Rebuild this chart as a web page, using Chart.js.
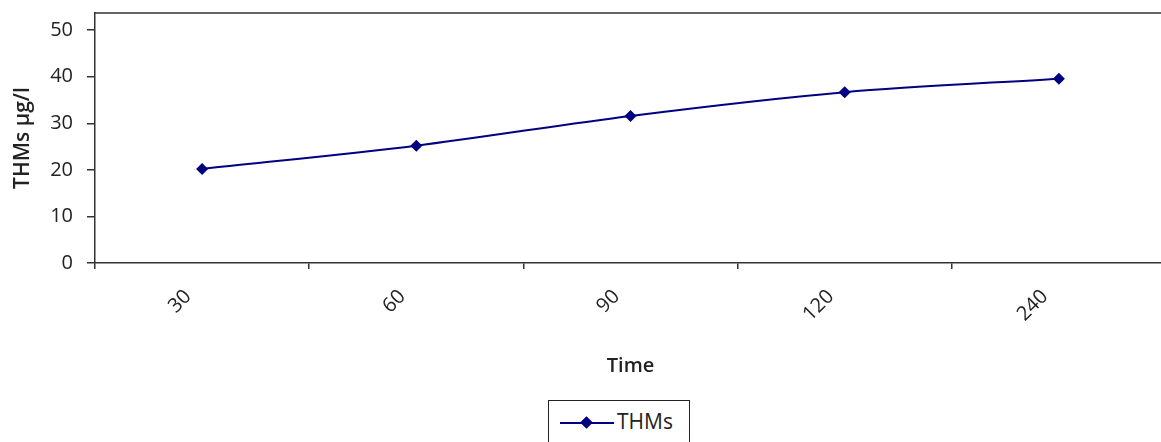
<!DOCTYPE html>
<html>
<head>
<meta charset="utf-8">
<script src="https://cdn.jsdelivr.net/npm/chart.js@4"></script>
<style>
  html, body { margin: 0; padding: 0; background: #fff; overflow: hidden; }
  #wrap { position: relative; width: 1161px; height: 442px; overflow: hidden; }
  #box { position: absolute; left: 0; top: 0; width: 1172px; height: 378px; }
  #legende {
    position: absolute; left: 548px; top: 400px; width: 142px; height: 50px;
    border: 1.5px solid #222; box-sizing: border-box;
    font-family: "Open Sans", sans-serif; font-size: 21px; color: #222;
  }
  #legende .trait { position: absolute; left: 11px; top: 21px; width: 54px; height: 2px; background: #000080; }
  #legende .losange { position: absolute; left: 33px; top: 17px; width: 9px; height: 9px; background: #000080; transform: rotate(45deg); }
  #legende .nom { position: absolute; left: 68px; top: 6px; }
</style>
</head>
<body>
<div id="wrap">
  <div id="box"><canvas id="graphique"></canvas></div>
  <div id="legende"><span class="trait"></span><span class="losange"></span><span class="nom">THMs</span></div>
</div>
<script>
// Données
const temps = ['30', '60', '90', '120', '240'];
const thms = [20.2, 25.2, 31.6, 36.7, 39.6];
const graduationsY = [0, 10, 20, 30, 40, 50];

const police = '"Open Sans", sans-serif';

// Cadre du haut de la zone de tracé
const cadre = {
    id: 'cadre',
    afterDraw(chart) {
        const { ctx, chartArea } = chart;
        ctx.save();
        ctx.strokeStyle = '#333';
        ctx.lineWidth = 1.5;
        ctx.beginPath();
        ctx.moveTo(chartArea.left, chartArea.top);
        ctx.lineTo(chartArea.right, chartArea.top);
        ctx.stroke();
        ctx.restore();
    }
};

const ctx = document.getElementById('graphique').getContext('2d');
new Chart(ctx, {
    type: 'line',
    data: {
        labels: temps,
        datasets: [{
            label: 'THMs',
            data: thms,
            borderColor: '#000080',
            backgroundColor: '#000080',
            borderWidth: 2,
            tension: 0.3,
            pointStyle: 'rectRot',
            pointRadius: 6,
            pointBackgroundColor: '#000080',
            pointBorderWidth: 0
        }]
    },
    options: {
        responsive: true,
        maintainAspectRatio: false,
        animation: false,
        layout: { padding: { top: 13, right: 2, left: 10, bottom: 0 } },
        plugins: { legend: { display: false }, tooltip: { enabled: false } },
        scales: {
            x: {
                offset: true,
                afterFit: (scale) => { scale.height = 115; },
                grid: { offset: true, drawOnChartArea: false, drawTicks: true, tickLength: 6, color: '#333', lineWidth: 1.5 },
                border: { color: '#333', width: 1.5 },
                ticks: { color: '#222', font: { family: police, size: 20, weight: '500' }, minRotation: 45, maxRotation: 45, padding: 16, labelOffset: -14 },
                title: { display: true, text: 'Time', color: '#222', font: { family: police, size: 20, weight: '600' }, padding: { top: 10, bottom: 0 } }
            },
            y: {
                min: 0,
                max: 53.7,
                afterBuildTicks: (scale) => { scale.ticks = graduationsY.map(v => ({ value: v })); },
                afterFit: (scale) => { scale.width = 85; scale.paddingTop = 0; scale.paddingBottom = 0; },
                grid: { drawOnChartArea: false, drawTicks: true, tickLength: 8, color: '#333', lineWidth: 1.5 },
                border: { color: '#333', width: 1.5 },
                ticks: { color: '#222', font: { family: police, size: 20, weight: '500' }, padding: 14 },
                title: { display: true, text: 'THMs µg/l', color: '#222', font: { family: police, size: 21, weight: '600' }, padding: { top: 0, bottom: 2 } }
            }
        }
    },
    plugins: [cadre]
});
</script>
</body>
</html>
